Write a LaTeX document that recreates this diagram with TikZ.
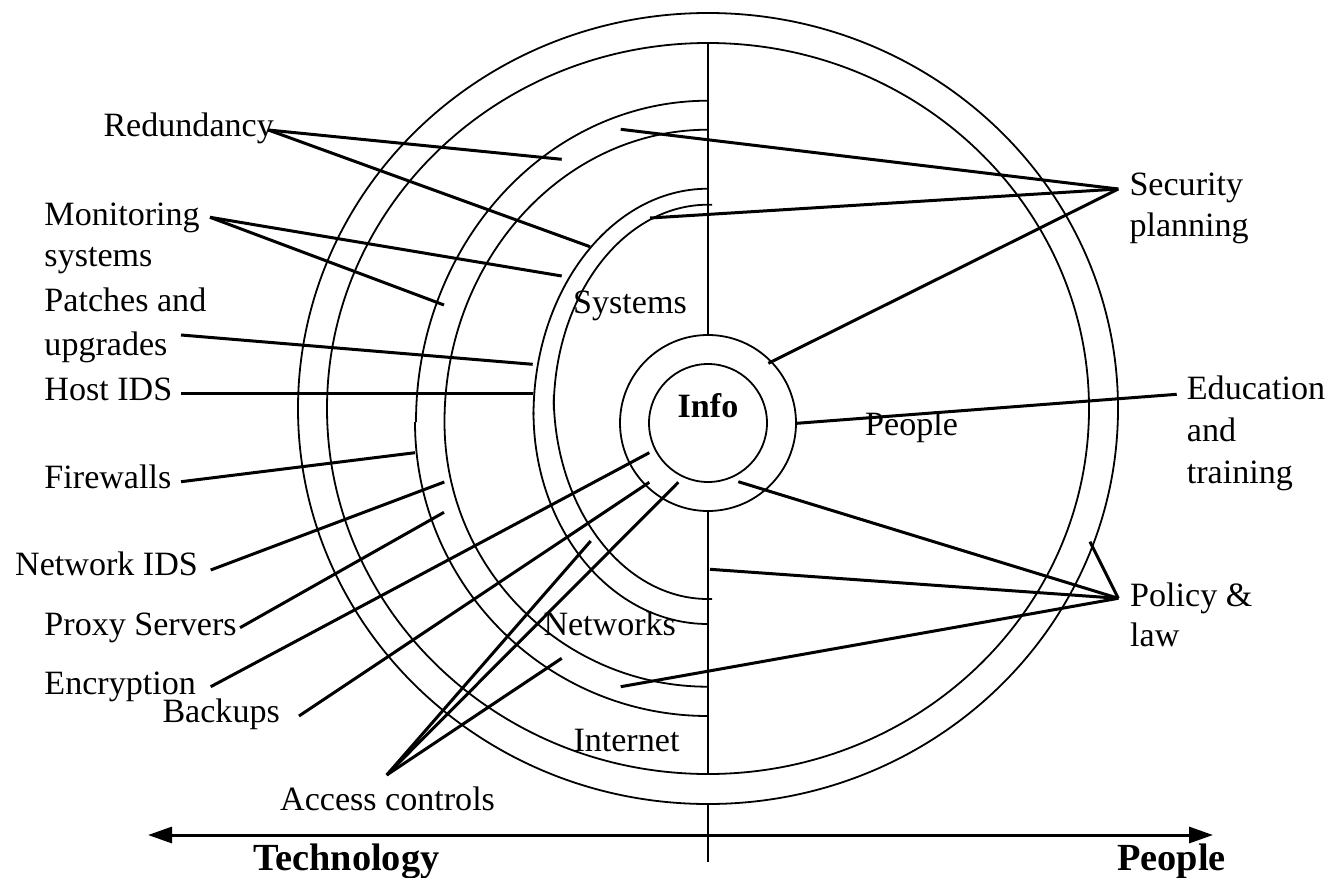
\documentclass[tikz,border=0pt]{standalone}
\usepackage{fontspec}
\setmainfont{Liberation Serif}
\usetikzlibrary{arrows.meta}
\begin{document}
\begin{tikzpicture}[x=1bp,y=-1bp,
  ring/.style={line width=1.8bp},
  leader/.style={line width=3bp},
  lbl/.style={anchor=base west,inner sep=0pt,font=\fontsize{34.2}{41}\selectfont},
  blbl/.style={lbl,font=\fontsize{34.2}{41}\selectfont\bfseries},
  axlbl/.style={lbl,font=\fontsize{38.5}{44}\selectfont\bfseries},
  ctr/.style={shape=circle,draw,line width=1.8bp,inner sep=0pt},
]
\useasboundingbox (0,0) rectangle (1330,877);

% outer full rings
\draw[ring] (708,408.5) ellipse [x radius=410, y radius=395.5];
\draw[ring] (708,408.5) ellipse [x radius=381, y radius=365.5];

% left half rings (upper and lower quarters)
\draw[ring] (708,100.7) arc[start angle=270, end angle=180, x radius=292, y radius=321.3];
\draw[ring] (415,422) arc[start angle=180, end angle=90, x radius=293, y radius=294];
\draw[ring] (708,129.7) arc[start angle=270, end angle=180, x radius=263.5, y radius=292.3];
\draw[ring] (444.5,422) arc[start angle=180, end angle=90, x radius=263.5, y radius=264.7];
\draw[ring] (708,188.7) arc[start angle=270, end angle=180, x radius=174.5, y radius=226.3];
\draw[ring] (533.5,412) arc[start angle=180, end angle=90, x radius=174.5, y radius=212];
\draw[ring] (712,204.7) -- (708,204.7) arc[start angle=270, end angle=180, x radius=154.3, y radius=205.3];
\draw[ring] (553.7,395) arc[start angle=180, end angle=90, x radius=154.3, y radius=204] -- (712,599);

% centre
\node[ctr, minimum size=176bp] (ringc) at (708,423) {};
\node[ctr, minimum size=118bp] (infoc) at (708,423) {};
\node[blbl, anchor=base] (info) at (708,417.3) {Info};

% dividing line
\draw[ring] (708,43) -- (ringc.north);
\draw[ring] (ringc.south) -- (708,774);

% ring labels
\node[lbl] (systems) at (573,313) {Systems};
\node[lbl] (networks) at (543.3,635) {Networks};
\node[lbl] (internet) at (573.3,751.7) {Internet};
\node[lbl] (people) at (865,435) {People};

% left labels
\node[lbl] (redund) at (103.3,136.7) {Redundancy};
\node[lbl] (mon1) at (44.3,225.7) {Monitoring};
\node[lbl] (mon2) at (44.3,266.7) {systems};
\node[lbl] (pat1) at (44.3,311.7) {Patches and};
\node[lbl] (pat2) at (44.3,355) {upgrades};
\node[lbl] (hids) at (44.3,400) {Host IDS};
\node[lbl] (fire) at (44.3,488.3) {Firewalls};
\node[lbl] (nids) at (15,575.7) {Network IDS};
\node[lbl] (proxy) at (44.3,635.7) {Proxy Servers};
\node[lbl] (encr) at (44.3,694) {Encryption};
\node[lbl] (backup) at (162.3,722.3) {Backups};
\node[lbl] (access) at (280,810) {Access controls};

% right labels
\node[lbl] (sec1) at (1129.3,195) {Security};
\node[lbl] (sec2) at (1129.3,236.7) {planning};
\node[lbl] (edu1) at (1186.7,399) {Education};
\node[lbl] (edu2) at (1186.7,441.7) {and};
\node[lbl] (edu3) at (1186.7,483) {training};
\node[lbl] (pol1) at (1130,606) {Policy \&};
\node[lbl] (pol2) at (1130,646.7) {law};

% leader end points
\coordinate (redA) at (268.3,130);
\coordinate (monA) at (210,217.3);
\coordinate (patA) at (181,335);
\coordinate (hidsA) at (181,393.7);
\coordinate (fireA) at (181,481.7);
\coordinate (nidsA) at (210.7,570);
\coordinate (proxA) at (240,627.7);
\coordinate (encA) at (210.7,686.7);
\coordinate (bakA) at (299,716);
\coordinate (accA) at (386.7,775);
\coordinate (secA) at (1118.3,189);
\coordinate (eduA) at (1176.7,394.3);
\coordinate (polA) at (1118.3,598.3);

% leaders
\draw[leader] (redA) -- (561.7,159.3);
\draw[leader] (redA) -- (590,246.7);
\draw[leader] (monA) -- (561.7,276);
\draw[leader] (monA) -- (444,305);
\draw[leader] (patA) -- (532.7,364.3);
\draw[leader] (hidsA) -- (532.7,393.7);
\draw[leader] (fireA) -- (415,452.7);
\draw[leader] (nidsA) -- (444.3,482);
\draw[leader] (proxA) -- (444,512.3);
\draw[leader] (encA) -- (649.3,452.7);
\draw[leader] (bakA) -- (649.3,482.3);
\draw[leader] (accA) -- (678.3,482.3);
\draw[leader] (accA) -- (590.7,541);
\draw[leader] (accA) -- (561.7,658.3);
\draw[leader] (secA) -- (620.7,129.3);
\draw[leader] (secA) -- (650,218);
\draw[leader] (secA) -- (768.3,363.3);
\draw[leader] (eduA) -- (796.7,423.3);
\draw[leader] (polA) -- (738.3,481.7);
\draw[leader] (polA) -- (710,569.3);
\draw[leader] (polA) -- (620.7,686.7);
\draw[leader] (polA) -- (1090,541.7);

% axis
\coordinate (axL) at (148,835);
\coordinate (axR) at (1213,835);
\draw[line width=3bp, {Triangle[length=24bp,width=16bp]}-{Triangle[length=24bp,width=16bp]}] (axL) -- (axR);
\draw[line width=2.5bp] (708,805) -- (708,862);
\node[axlbl] (tech) at (253,870) {Technology};
\node[axlbl] (ppl) at (1117,870) {People};
\end{tikzpicture}
\end{document}
